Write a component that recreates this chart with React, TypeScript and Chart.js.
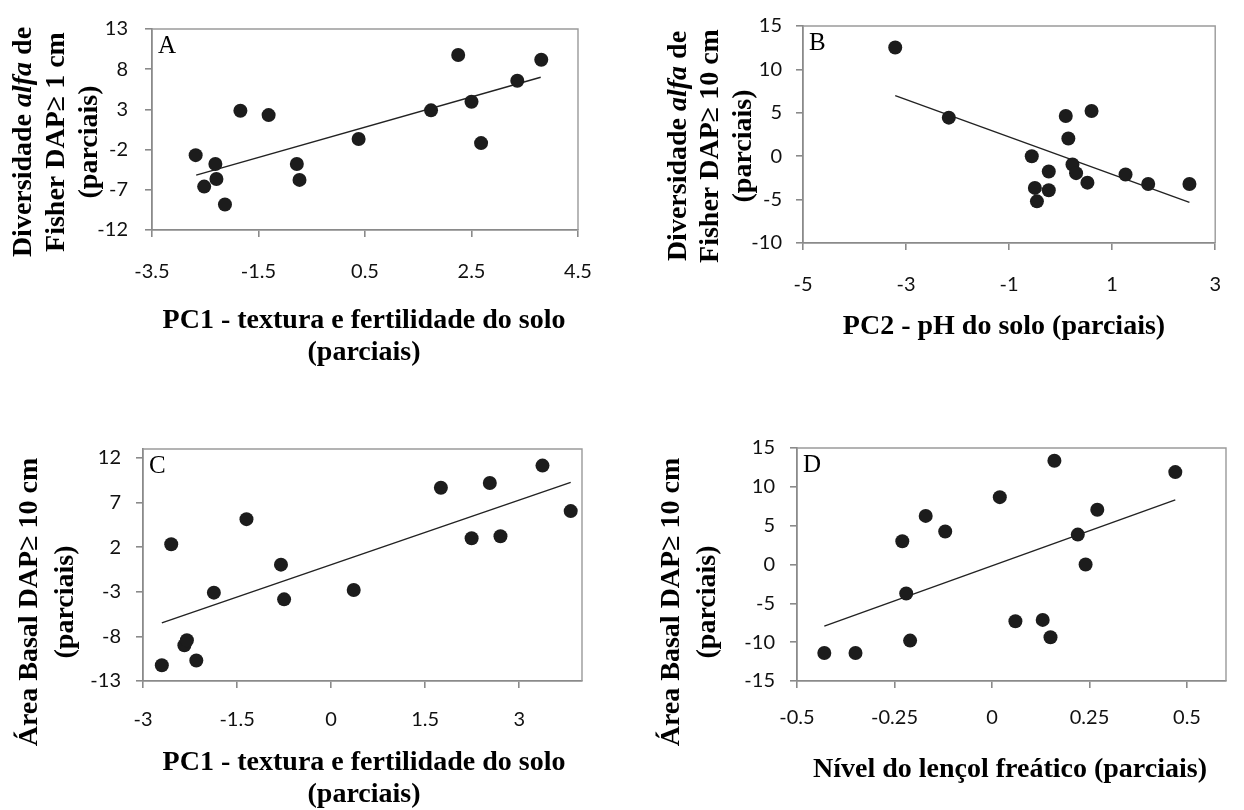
import React, { useEffect, useRef } from "react";
import { Chart, registerables } from "chart.js";

Chart.register(...registerables);

// ---- Panel A: Fisher's alpha (DAP >= 1 cm) vs PC1 ----
const pc1A = [-2.68, -2.52, -2.31, -2.29, -2.13, -1.84, -1.31, -0.78, -0.73, 0.38, 1.74, 2.25, 2.5, 2.68, 3.36, 3.81];
const alfa1cm = [-2.69, -6.6, -3.8, -5.66, -8.82, 2.84, 2.29, -3.8, -5.77, -0.68, 2.88, 9.76, 3.95, -1.19, 6.56, 9.17];
const trendAX = [-2.67, 3.8];
const trendAY = [-5.18, 7.0];
const ticksAX = [-3.5, -1.5, 0.5, 2.5, 4.5];
const ticksAY = [-12, -7, -2, 3, 8, 13];

// ---- Panel B: Fisher's alpha (DAP >= 10 cm) vs PC2 ----
const pc2B = [-3.21, -2.17, -0.56, -0.5, -0.46, -0.23, -0.23, 0.1, 0.15, 0.23, 0.3, 0.52, 0.6, 1.26, 1.7, 2.5];
const alfa10cm = [12.53, 4.44, 0, -3.65, -5.2, -1.76, -3.92, 4.63, 2.04, -0.96, -1.95, -3.05, 5.2, -2.1, -3.2, -3.2];
const trendBX = [-3.21, 2.5];
const trendBY = [6.98, -5.33];
const ticksBX = [-5, -3, -1, 1, 3];
const ticksBY = [-10, -5, 0, 5, 10, 15];

// ---- Panel C: basal area (DAP >= 10 cm) vs PC1 ----
const pc1C = [-2.7, -2.55, -2.34, -2.3, -2.15, -1.87, -1.35, -0.8, -0.75, 0.36, 1.75, 2.24, 2.53, 2.7, 3.37, 3.82];
const areaC = [-11.24, 2.33, -8.99, -8.43, -10.71, -3.1, 5.14, 0.04, -3.85, -2.8, 8.66, 3.0, 9.19, 3.23, 11.14, 6.04];
const trendCX = [-2.7, 3.82];
const trendCY = [-6.48, 9.26];
const ticksCX = [-3, -1.5, 0, 1.5, 3];
const ticksCY = [-13, -8, -3, 2, 7, 12];

// ---- Panel D: basal area (DAP >= 10 cm) vs water table level ----
const lencolD = [-0.43, -0.35, -0.23, -0.22, -0.21, -0.17, -0.12, 0.02, 0.06, 0.13, 0.15, 0.16, 0.22, 0.24, 0.27, 0.47];
const areaD = [-11.39, -11.39, 2.99, -3.73, -9.8, 6.26, 4.24, 8.67, -7.3, -7.13, -9.36, 13.36, 3.85, 0, 7.04, 11.9];
const trendDX = [-0.43, 0.47];
const trendDY = [-7.94, 8.33];
const ticksDX = [-0.5, -0.25, 0, 0.25, 0.5];
const ticksDY = [-15, -10, -5, 0, 5, 10, 15];

// ---- Axis titles (segments: [text, italic]) ----
type Seg = [string, boolean];
const yTitleAlfa1: Seg[][] = [
  [["Diversidade ", false], ["alfa", true], [" de", false]],
  [["Fisher DAP\u2265 1 cm", false]],
  [["(parciais)", false]],
];
const yTitleAlfa10: Seg[][] = [
  [["Diversidade ", false], ["alfa", true], [" de", false]],
  [["Fisher DAP\u2265 10 cm", false]],
  [["(parciais)", false]],
];
const yTitleArea: Seg[][] = [
  [["\u00C1rea Basal DAP\u2265 10 cm", false]],
  [["(parciais)", false]],
];
const xTitlePC1: Seg[][] = [
  [["PC1 - textura e fertilidade do solo", false]],
  [["(parciais)", false]],
];
const xTitlePC2: Seg[][] = [[["PC2 - pH do solo (parciais)", false]]];
const xTitleLencol: Seg[][] = [[["N\u00EDvel do len\u00E7ol fre\u00E1tico (parciais)", false]]];

const SERIF = '"Liberation Serif", "Times New Roman", serif';
const TICK_FONT = "Lato";
const AXIS_GREY = "#8a8a8a";
const MARK = "#1c1c1c";
const Y_AXIS_W = 60;
const X_AXIS_H = 60;
const TITLE_SIZE = 28;

interface PanelSpec {
  letter: string;
  box: { x: number; y: number; w: number; h: number };
  plot: { l: number; t: number; r: number; b: number };
  xs: number[];
  ys: number[];
  tx: number[];
  ty: number[];
  xMin: number;
  xMax: number;
  xTicks: number[];
  yMin: number;
  yMax: number;
  yTicks: number[];
  xLabelPad: number;
  yLabelPad: number;
  yTitle: Seg[][];
  yTitleCols: number[];
  yTitleCy: number;
  xTitle: Seg[][];
  xTitleCx: number;
  xTitleRows: number[];
}

const panels: PanelSpec[] = [
  {
    letter: "A",
    box: { x: 0, y: 0, w: 622, h: 405 },
    plot: { l: 152, t: 20, r: 578, b: 230 },
    xs: pc1A, ys: alfa1cm, tx: trendAX, ty: trendAY,
    xMin: -3.5, xMax: 4.5, xTicks: ticksAX,
    yMin: -12, yMax: 13, yTicks: ticksAY,
    xLabelPad: 23, yLabelPad: 17,
    yTitle: yTitleAlfa1, yTitleCols: [24, 57, 90], yTitleCy: 142,
    xTitle: xTitlePC1, xTitleCx: 364, xTitleRows: [321, 353],
  },
  {
    letter: "B",
    box: { x: 622, y: 0, w: 622, h: 405 },
    plot: { l: 803, t: 24, r: 1225, b: 243 },
    xs: pc2B, ys: alfa10cm, tx: trendBX, ty: trendBY,
    xMin: -5, xMax: 3, xTicks: ticksBX,
    yMin: -10, yMax: 15, yTicks: ticksBY,
    xLabelPad: 23, yLabelPad: 14,
    yTitle: yTitleAlfa10, yTitleCols: [679, 711, 744], yTitleCy: 146,
    xTitle: xTitlePC2, xTitleCx: 1004, xTitleRows: [327],
  },
  {
    letter: "C",
    box: { x: 0, y: 405, w: 622, h: 405 },
    plot: { l: 143, t: 449, r: 582, b: 681 },
    xs: pc1C, ys: areaC, tx: trendCX, ty: trendCY,
    xMin: -3, xMax: 4, xTicks: ticksCX,
    yMin: -13, yMax: 13, yTicks: ticksCY,
    xLabelPad: 20, yLabelPad: 15,
    yTitle: yTitleArea, yTitleCols: [30, 66], yTitleCy: 602,
    xTitle: xTitlePC1, xTitleCx: 364, xTitleRows: [763, 795],
  },
  {
    letter: "D",
    box: { x: 622, y: 405, w: 622, h: 405 },
    plot: { l: 797, t: 448, r: 1226, b: 681 },
    xs: lencolD, ys: areaD, tx: trendDX, ty: trendDY,
    xMin: -0.5, xMax: 0.6, xTicks: ticksDX,
    yMin: -15, yMax: 15, yTicks: ticksDY,
    xLabelPad: 18, yLabelPad: 15,
    yTitle: yTitleArea, yTitleCols: [672, 708], yTitleCy: 602,
    xTitle: xTitleLencol, xTitleCx: 1010, xTitleRows: [770],
  },
];

function drawRich(ctx: CanvasRenderingContext2D, segs: Seg[], cx: number, cy: number, angle: number, size: number) {
  ctx.save();
  ctx.translate(cx, cy);
  ctx.rotate(angle);
  const fonts = segs.map(([, it]) => `${it ? "italic " : ""}bold ${size}px ${SERIF}`);
  let total = 0;
  const widths = segs.map(([t], i) => {
    ctx.font = fonts[i];
    const w = ctx.measureText(t).width;
    total += w;
    return w;
  });
  ctx.fillStyle = "#000";
  ctx.textAlign = "left";
  ctx.textBaseline = "middle";
  let x = -total / 2;
  segs.forEach(([t], i) => {
    ctx.font = fonts[i];
    ctx.fillText(t, x, 0);
    x += widths[i];
  });
  ctx.restore();
}

function Panel({ spec }: { spec: PanelSpec }) {
  const ref = useRef<HTMLCanvasElement | null>(null);

  useEffect(() => {
    const canvas = ref.current;
    if (!canvas) return;
    const { box, plot } = spec;

    const decor = {
      id: "panelDecor",
      beforeDatasetsDraw(chart: any) {
        const { ctx, chartArea: a } = chart;
        ctx.save();
        ctx.strokeStyle = "#9a9a9a";
        ctx.lineWidth = 1.4;
        ctx.beginPath();
        ctx.moveTo(a.left, a.top);
        ctx.lineTo(a.right, a.top);
        ctx.lineTo(a.right, a.bottom);
        ctx.stroke();
        ctx.restore();
      },
      afterDraw(chart: any) {
        const { ctx, chartArea: a } = chart;
        ctx.save();
        ctx.fillStyle = "#000";
        ctx.font = `25px ${SERIF}`;
        ctx.textAlign = "left";
        ctx.textBaseline = "top";
        ctx.fillText(spec.letter, a.left + 6, a.top + 5);
        ctx.restore();
        spec.yTitle.forEach((line, i) =>
          drawRich(ctx, line, spec.yTitleCols[i] - box.x, spec.yTitleCy - box.y, -Math.PI / 2, TITLE_SIZE)
        );
        spec.xTitle.forEach((line, i) =>
          drawRich(ctx, line, spec.xTitleCx - box.x, spec.xTitleRows[i] - box.y, 0, TITLE_SIZE)
        );
      },
    };

    const tickFont = { family: TICK_FONT, size: 20 };
    const gridCfg = {
      display: true,
      drawOnChartArea: false,
      drawTicks: true,
      tickLength: 7,
      color: AXIS_GREY,
      lineWidth: 1.6,
    };

    const chart = new Chart(canvas, {
      type: "scatter",
      data: {
        datasets: [
          {
            type: "scatter",
            data: spec.xs.map((x, i) => ({ x, y: spec.ys[i] })),
            pointRadius: 7,
            pointBackgroundColor: MARK,
            pointBorderWidth: 0,
            order: 1,
          },
          {
            type: "line",
            data: spec.tx.map((x, i) => ({ x, y: spec.ty[i] })),
            borderColor: "#222",
            borderWidth: 1.4,
            pointRadius: 0,
            fill: false,
            order: 2,
          },
        ] as any,
      },
      options: {
        responsive: false,
        maintainAspectRatio: false,
        animation: false,
        events: [],
        layout: {
          padding: {
            left: plot.l - box.x - Y_AXIS_W,
            right: box.x + box.w - plot.r,
            top: plot.t - box.y,
            bottom: box.y + box.h - plot.b - X_AXIS_H,
          },
        },
        plugins: { legend: { display: false }, tooltip: { enabled: false } },
        scales: {
          x: {
            type: "linear",
            min: spec.xMin,
            max: spec.xMax,
            afterBuildTicks: (s: any) => {
              s.ticks = spec.xTicks.map((value) => ({ value }));
            },
            afterFit: (s: any) => {
              s.height = X_AXIS_H;
            },
            ticks: {
              font: tickFont,
              color: "#111",
              padding: spec.xLabelPad,
              maxRotation: 0,
              autoSkip: false,
              callback: (v: any) => String(v),
            },
            grid: gridCfg,
            border: { display: true, color: AXIS_GREY, width: 1.8 },
          },
          y: {
            type: "linear",
            min: spec.yMin,
            max: spec.yMax,
            afterBuildTicks: (s: any) => {
              s.ticks = spec.yTicks.map((value) => ({ value }));
            },
            afterFit: (s: any) => {
              s.width = Y_AXIS_W;
            },
            ticks: {
              font: tickFont,
              color: "#111",
              padding: spec.yLabelPad,
              autoSkip: false,
              callback: (v: any) => String(v),
            },
            grid: gridCfg,
            border: { display: true, color: AXIS_GREY, width: 1.8 },
          },
        },
      } as any,
      plugins: [decor],
    });

    return () => chart.destroy();
  }, [spec]);

  return (
    <canvas
      ref={ref}
      width={spec.box.w}
      height={spec.box.h}
      style={{
        position: "absolute",
        left: spec.box.x,
        top: spec.box.y,
        width: spec.box.w,
        height: spec.box.h,
        display: "block",
      }}
    />
  );
}

export default function App() {
  return (
    <div
      style={{
        position: "absolute",
        left: 0,
        top: 0,
        width: 1244,
        height: 810,
        background: "#fff",
        overflow: "hidden",
      }}
    >
      {panels.map((p) => (
        <Panel key={p.letter} spec={p} />
      ))}
    </div>
  );
}
